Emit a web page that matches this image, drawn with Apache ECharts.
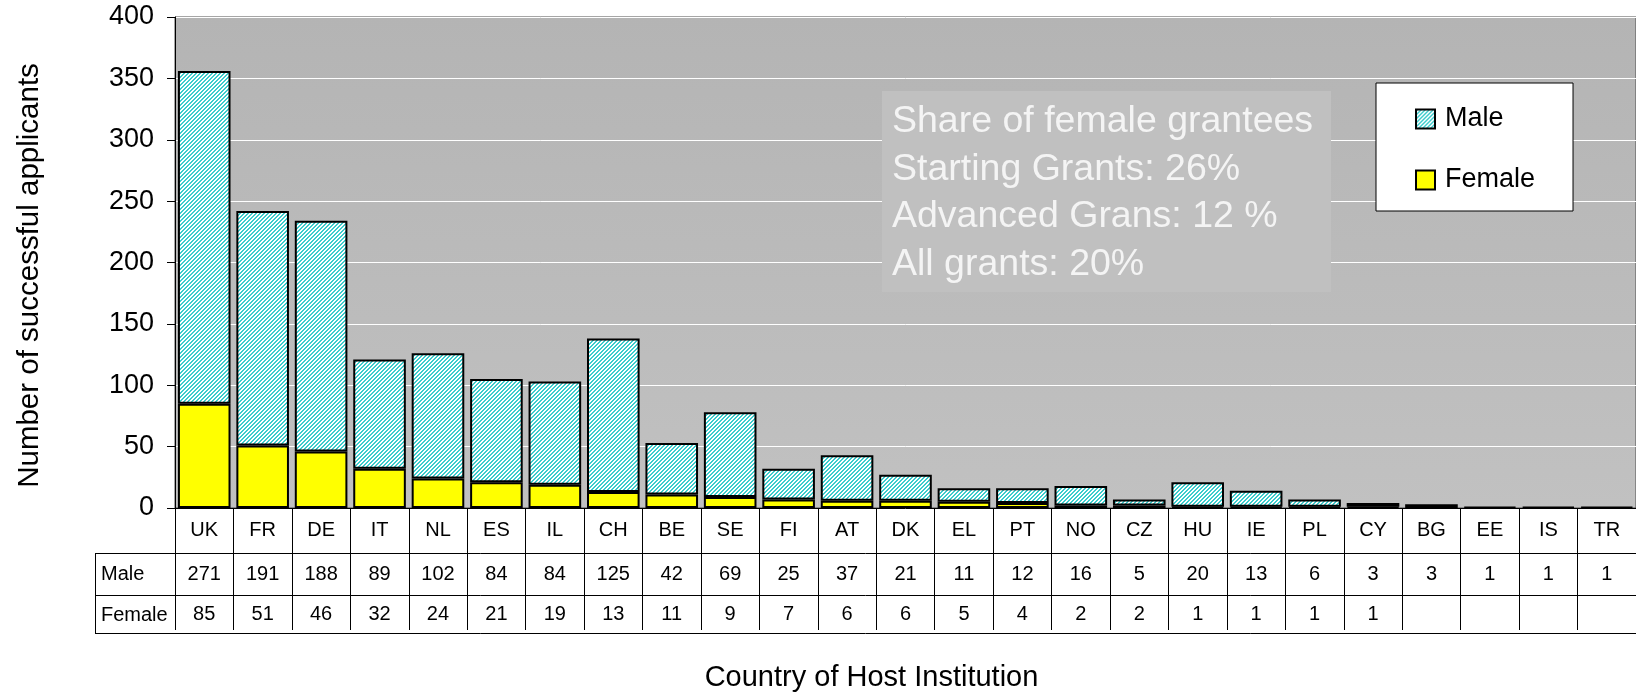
<!DOCTYPE html>
<html>
<head>
<meta charset="utf-8">
<title>Successful applicants by country of host institution</title>
<script src="https://cdn.jsdelivr.net/npm/echarts@6/dist/echarts.min.js"></script>
<style>
  html, body { margin: 0; padding: 0; background: #fff; }
  #chart { width: 1636px; height: 697px; }
</style>
</head>
<body>
<div id="chart"></div>
<script>
// data
const countries = ['UK', 'FR', 'DE', 'IT', 'NL', 'ES', 'IL', 'CH', 'BE', 'SE', 'FI', 'AT', 'DK', 'EL', 'PT', 'NO', 'CZ', 'HU', 'IE', 'PL', 'CY', 'BG', 'EE', 'IS', 'TR']
const male = [271, 191, 188, 89, 102, 84, 84, 125, 42, 69, 25, 37, 21, 11, 12, 16, 5, 20, 13, 6, 3, 3, 1, 1, 1]
const female = [85, 51, 46, 32, 24, 21, 19, 13, 11, 9, 7, 6, 6, 5, 4, 2, 2, 1, 1, 1, 1, null, null, null, null]
const yMin = 0
const yMax = 400
const yStep = 50
const noteLines = ['Share of female grantees', 'Starting Grants: 26%', 'Advanced Grans: 12 %', 'All grants: 20%']

// layout
const FONT = '"Liberation Sans", Arial, sans-serif'
const W = 1636
const AXIS_Y = 511
const TABLE_LEFT = 95
const ROW_LINES = [553, 595, 633]

// diagonal hatch for the male bars
const makeHatch = () => {
  const c = document.createElement('canvas')
  c.width = 8
  c.height = 8
  const ctx = c.getContext('2d')
  for (let y = 0; y < 8; y++) {
    for (let x = 0; x < 8; x++) {
      ctx.fillStyle = (x + y) % 4 < 2 ? '#3ccccc' : '#ffffff'
      ctx.fillRect(x, y, 1, 1)
    }
  }
  return c
}

const chart = echarts.init(document.getElementById('chart'), null, { renderer: 'canvas' })

const tableLines = ROW_LINES.map(y => ({
  type: 'line',
  z: 5,
  shape: { x1: TABLE_LEFT, y1: y + 0.5, x2: W, y2: y + 0.5 },
  style: { stroke: '#000', lineWidth: 1 }
}))

chart.setOption({
  animation: false,
  textStyle: { fontFamily: FONT },
  grid: {
    left: 175,
    top: 17,
    right: 0,
    bottom: 697 - AXIS_Y,
    show: true,
    borderColor: '#4d4d4d',
    borderWidth: 1,
    backgroundColor: {
      type: 'linear', x: 0, y: 0, x2: 0, y2: 1,
      colorStops: [
        { offset: 0, color: '#b4b4b4' },
        { offset: 1, color: '#c1c1c1' }
      ]
    }
  },
  legend: {
    data: ['Male', 'Female'],
    orient: 'vertical',
    left: 1376,
    top: 83,
    padding: [21, 38, 16, 39],
    itemGap: 31,
    itemWidth: 19,
    itemHeight: 19,
    icon: 'rect',
    selectedMode: false,
    backgroundColor: '#fff',
    borderColor: '#000',
    borderWidth: 1,
    textStyle: { fontSize: 27, color: '#000', lineHeight: 30, fontFamily: FONT, padding: [0, 0, 0, 5] }
  },
  xAxis: {
    type: 'category',
    data: countries,
    name: 'Country of Host Institution',
    nameLocation: 'middle',
    nameGap: 155,
    nameTextStyle: { fontSize: 29, color: '#000', fontFamily: FONT, padding: [0, 68, 0, 0] },
    axisLine: { lineStyle: { color: '#000', width: 1 } },
    axisTick: { show: true, interval: 0, length: ROW_LINES[2] - AXIS_Y, lineStyle: { color: '#000' } },
    splitLine: { show: false },
    axisLabel: {
      interval: 0,
      margin: 3,
      color: '#000',
      formatter: (val, i) => `{c|${val}}\n{m|${male[i] ?? ' '}}\n{f|${female[i] ?? ' '}}`,
      rich: {
        c: { fontSize: 20, lineHeight: 38, color: '#000', fontFamily: FONT },
        m: { fontSize: 20, lineHeight: 50, color: '#000', fontFamily: FONT },
        f: { fontSize: 20, lineHeight: 30, color: '#000', fontFamily: FONT }
      }
    }
  },
  yAxis: {
    type: 'value',
    min: yMin,
    max: yMax,
    interval: yStep,
    name: 'Number of successful applicants',
    nameLocation: 'middle',
    nameGap: 130,
    nameTextStyle: { fontSize: 29.5, color: '#000', fontFamily: FONT, padding: [0, 26, 0, 0] },
    axisLine: { show: true, lineStyle: { color: '#000', width: 1 } },
    axisTick: { show: true, length: 8, lineStyle: { color: '#000' } },
    axisLabel: { fontSize: 27, color: '#000', margin: 21, fontFamily: FONT },
    splitLine: { show: true, lineStyle: { color: '#ffffff', width: 1 } }
  },
  series: [
    {
      name: 'Female',
      type: 'bar',
      stack: 'total',
      data: female,
      barCategoryGap: '10%',
      itemStyle: { color: '#ffff00', borderColor: '#000', borderWidth: 2 }
    },
    {
      name: 'Male',
      type: 'bar',
      stack: 'total',
      data: male,
      barCategoryGap: '10%',
      itemStyle: { color: { image: makeHatch(), repeat: 'repeat' }, borderColor: '#000', borderWidth: 2 }
    }
  ],
  graphic: [
    ...tableLines,
    {
      type: 'line',
      z: 5,
      shape: { x1: TABLE_LEFT + 0.5, y1: ROW_LINES[0], x2: TABLE_LEFT + 0.5, y2: ROW_LINES[2] },
      style: { stroke: '#000', lineWidth: 1 }
    },
    {
      type: 'text',
      z: 5,
      left: 101,
      top: 564,
      style: { text: 'Male', fontSize: 20, fill: '#000', fontFamily: FONT }
    },
    {
      type: 'text',
      z: 5,
      left: 101,
      top: 605,
      style: { text: 'Female', fontSize: 20, fill: '#000', fontFamily: FONT }
    },
    {
      type: 'rect',
      z: 5,
      shape: { x: 882, y: 91, width: 449, height: 201 },
      style: { fill: '#c0c0c0' }
    },
    {
      type: 'text',
      z: 6,
      x: 892,
      y: 98,
      style: {
        text: noteLines.join('\n'),
        fontSize: 37.5,
        lineHeight: 47.5,
        fill: '#f4f4f4',
        fontFamily: FONT,
        verticalAlign: 'top'
      }
    }
  ]
})
</script>
</body>
</html>
